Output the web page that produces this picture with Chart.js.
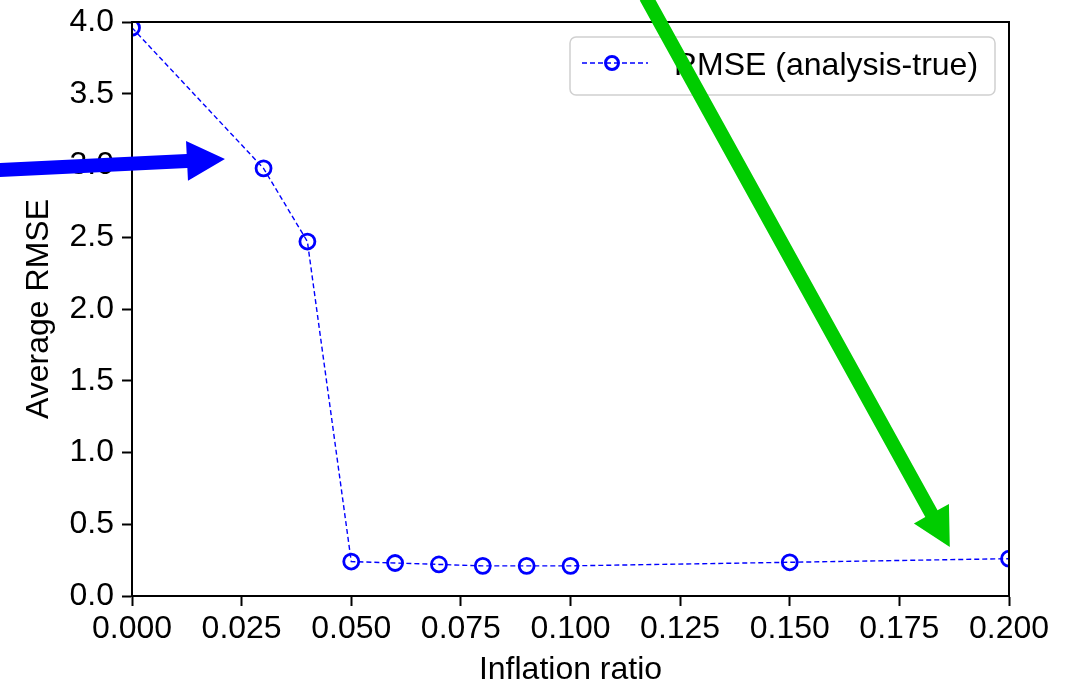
<!DOCTYPE html>
<html>
<head>
<meta charset="utf-8">
<script src="https://cdn.jsdelivr.net/npm/chart.js@4.4.1/dist/chart.umd.min.js"></script>
<style>
  html, body { margin: 0; padding: 0; background: #fff; }
  #wrap { width: 1069px; height: 687px; }
</style>
</head>
<body>
<div id="wrap"><canvas id="rmse-chart"></canvas></div>
<script>
// inflation ratio vs. average RMSE
const inflation = [0, 0.03, 0.04, 0.05, 0.06, 0.07, 0.08, 0.09, 0.10, 0.15, 0.20];
const rmse = [3.96, 2.98, 2.47, 0.24, 0.23, 0.22, 0.21, 0.21, 0.21, 0.235, 0.26];
const seriesName = 'RMSE (analysis-true)';

const xTickValues = [0, 0.025, 0.05, 0.075, 0.1, 0.125, 0.15, 0.175, 0.2];
const yTickValues = [0, 0.5, 1, 1.5, 2, 2.5, 3, 3.5, 4];

// arrows: [tail, tip] in data units
const blueArrow = [[-0.0312, 2.967], [0.0212, 3.045]];
const greenArrow = [[0.1172, 4.174], [0.1865, 0.3415]];

const FONT = 'Liberation Sans, Arial, sans-serif';
const BLUE = '#0000ff';

const points = inflation.map((x, i) => ({ x: x, y: rmse[i] }));

function drawArrow(ctx, chart, arrow, color) {
  const xs = chart.scales.x, ys = chart.scales.y;
  const x0 = xs.getPixelForValue(arrow[0][0]), y0 = ys.getPixelForValue(arrow[0][1]);
  const x1 = xs.getPixelForValue(arrow[1][0]), y1 = ys.getPixelForValue(arrow[1][1]);
  const len = Math.hypot(x1 - x0, y1 - y0);
  const ux = (x1 - x0) / len, uy = (y1 - y0) / len;
  const nx = -uy, ny = ux;
  const w = 7, hw = 20, hl = 38;
  const bx = x1 - ux * hl, by = y1 - uy * hl;
  ctx.save();
  ctx.fillStyle = color;
  ctx.beginPath();
  ctx.moveTo(x0 + nx * w, y0 + ny * w);
  ctx.lineTo(bx + nx * w, by + ny * w);
  ctx.lineTo(bx + nx * hw, by + ny * hw);
  ctx.lineTo(x1, y1);
  ctx.lineTo(bx - nx * hw, by - ny * hw);
  ctx.lineTo(bx - nx * w, by - ny * w);
  ctx.lineTo(x0 - nx * w, y0 - ny * w);
  ctx.closePath();
  ctx.fill();
  ctx.restore();
}

// keep tick-label overflow from pushing the plot area around
function noOverflow(s) {
  s.paddingTop = 0;
  s.paddingBottom = 0;
  s.paddingLeft = 0;
  s.paddingRight = 0;
}

const extras = {
  id: 'extras',
  afterDatasetsDraw(chart) {
    const ctx = chart.ctx;
    const a = chart.chartArea;
    ctx.save();
    // top / right frame
    ctx.strokeStyle = '#000';
    ctx.lineWidth = 2;
    ctx.strokeRect(a.left, a.top, a.right - a.left, a.bottom - a.top);

    // legend box
    const lx = a.right - 439, ly = a.top + 15, lw = 425, lh = 58;
    ctx.beginPath();
    ctx.roundRect(lx, ly, lw, lh, 6);
    ctx.fillStyle = 'rgba(255,255,255,0.8)';
    ctx.fill();
    ctx.strokeStyle = '#d0d0d0';
    ctx.lineWidth = 1.5;
    ctx.stroke();

    const my = ly + 26;
    ctx.strokeStyle = BLUE;
    ctx.lineWidth = 1.5;
    ctx.setLineDash([5, 3]);
    ctx.beginPath();
    ctx.moveTo(lx + 12, my);
    ctx.lineTo(lx + 78, my);
    ctx.stroke();
    ctx.setLineDash([]);
    ctx.lineWidth = 3;
    ctx.beginPath();
    ctx.arc(lx + 42, my, 6.5, 0, Math.PI * 2);
    ctx.stroke();

    ctx.fillStyle = '#000';
    ctx.font = '32px ' + FONT;
    ctx.textBaseline = 'middle';
    ctx.fillText(seriesName, lx + 104, my + 3);
    ctx.restore();
  },
  afterDraw(chart) {
    drawArrow(chart.ctx, chart, blueArrow, '#0000ff');
    drawArrow(chart.ctx, chart, greenArrow, '#00cc00');
  }
};

new Chart(document.getElementById('rmse-chart'), {
  type: 'line',
  data: {
    datasets: [{
      label: seriesName,
      data: points,
      borderColor: BLUE,
      borderWidth: 1.4,
      borderDash: [5, 3],
      pointStyle: 'circle',
      pointRadius: 7.5,
      pointBorderWidth: 2.8,
      pointBorderColor: BLUE,
      pointBackgroundColor: 'rgba(0,0,0,0)',
      fill: false,
      tension: 0,
      clip: 0
    }]
  },
  options: {
    responsive: true,
    maintainAspectRatio: false,
    devicePixelRatio: 1,
    animation: false,
    events: [],
    layout: { padding: { left: 0, top: 22, right: 60, bottom: 0 } },
    plugins: {
      legend: { display: false },
      tooltip: { enabled: false }
    },
    scales: {
      x: {
        type: 'linear',
        min: 0,
        max: 0.2,
        afterBuildTicks: (s) => { s.ticks = xTickValues.map(v => ({ value: v })); },
        afterFit: (s) => { s.height = 91; noOverflow(s); },
        grid: { drawOnChartArea: false, drawTicks: true, tickLength: 10, tickWidth: 2, tickColor: '#000' },
        border: { display: true, color: '#000', width: 2 },
        ticks: {
          color: '#000',
          padding: 4,
          maxRotation: 0,
          font: { family: FONT, size: 32 },
          callback: (v) => Number(v).toFixed(3)
        },
        title: {
          display: true,
          text: 'Inflation ratio',
          color: '#000',
          font: { family: FONT, size: 32, lineHeight: 1.05 },
          padding: { top: 4, bottom: 0 }
        }
      },
      y: {
        type: 'linear',
        min: 0,
        max: 4,
        afterBuildTicks: (s) => { s.ticks = yTickValues.map(v => ({ value: v })); },
        afterFit: (s) => { s.width = 132; noOverflow(s); },
        grid: { drawOnChartArea: false, drawTicks: true, tickLength: 10, tickWidth: 2, tickColor: '#000' },
        border: { display: true, color: '#000', width: 2 },
        ticks: {
          color: '#000',
          padding: 8,
          font: { family: FONT, size: 32 },
          callback: (v) => Number(v).toFixed(1)
        },
        title: {
          display: true,
          text: 'Average RMSE',
          color: '#000',
          font: { family: FONT, size: 32 },
          padding: { top: 20, bottom: 0 }
        }
      }
    }
  },
  plugins: [extras]
});
</script>
</body>
</html>
